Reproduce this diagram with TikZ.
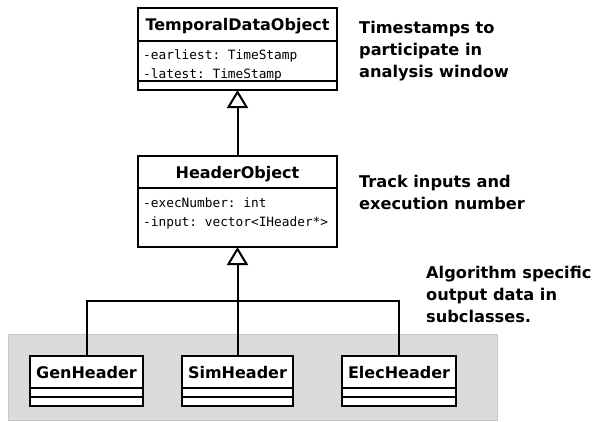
\documentclass[tikz,border=0pt]{standalone}
\usepackage{fontspec}
\setmainfont{DejaVu Sans}
\setsansfont{DejaVu Sans}
\setmonofont{DejaVu Sans Mono}
\usetikzlibrary{positioning,arrows.meta}
\tikzset{
  klasse/.style={draw, line width=2pt, fill=white, inner sep=0pt, outer sep=0pt, text depth=0pt,
    font=\fontsize{16}{18}\selectfont\bfseries},
  leer/.style={draw, line width=2pt, fill=white, inner sep=0pt, outer sep=0pt},
  attr/.style={anchor=north west, align=left, inner sep=0pt,
    font=\fontsize{12.8}{18.5}\selectfont\ttfamily},
  notiz/.style={anchor=north west, align=left, inner sep=0pt,
    font=\fontsize{16.2}{22}\selectfont\bfseries},
  linie/.style={line width=2pt},
  erbt/.style={line width=2pt, -{Triangle[open, length=18pt, width=21pt, line width=2pt]}},
}
\begin{document}
\begin{tikzpicture}[x=1pt, y=-1pt]
  \useasboundingbox (0,0) rectangle (592,421);
  % grauer Bereich fuer die Unterklassen
  \filldraw[fill=black!14, draw=black!22, line width=1pt] (8,334) rectangle (497,420.5);
  % TemporalDataObject
  \node[klasse, minimum width=199pt, minimum height=33pt] (tdo) at (237.5,24.5) {TemporalDataObject};
  \node[leer, minimum width=199pt, minimum height=40pt, below=0pt of tdo] (tdoattr) {};
  \node[leer, minimum width=199pt, minimum height=9pt, below=0pt of tdoattr] (tdoops) {};
  \node[attr] (tdotxt) at (143,50) {-earliest: TimeStamp\\-latest: TimeStamp};
  % HeaderObject
  \node[klasse, minimum width=199pt, minimum height=32pt] (hdr) at (237.5,172) {HeaderObject};
  \node[leer, minimum width=199pt, minimum height=59pt, below=0pt of hdr] (hdrattr) {};
  \node[attr, font=\fontsize{12.8}{19}\selectfont\ttfamily] (hdrtxt) at (143,198) {-execNumber: int\\-input: vector<IHeader*>};
  % Unterklassen: Name/x/Breite/Text
  \foreach \n/\x/\w/\t in {gen/86.5/113/GenHeader, sim/237.5/111/SimHeader, elec/399/114/ElecHeader}{
    \node[klasse, minimum width=\w pt, minimum height=32pt] (\n) at (\x,372) {\t};
    \node[leer, minimum width=\w pt, minimum height=9pt, below=0pt of \n] (\n a) {};
    \node[leer, minimum width=\w pt, minimum height=9pt, below=0pt of \n a] (\n b) {};
  }
  % Vererbung
  \coordinate (knoten) at (237.5,301);
  \draw[linie] (gen.north) |- (knoten) -| (elec.north);
  \draw[linie] (sim.north) -- (knoten);
  \draw[erbt] (knoten) -- (hdrattr.south);
  \draw[erbt] (hdr.north) -- (tdoops.south);
  % Anmerkungen
  \node[notiz] (n1) at (359,20.5) {Timestamps to\\participate in\\analysis window};
  \node[notiz] (n2) at (359,175) {Track inputs and\\execution number};
  \node[notiz] (n3) at (426,266) {Algorithm specific\\output data in\\subclasses.};
\end{tikzpicture}
\end{document}
